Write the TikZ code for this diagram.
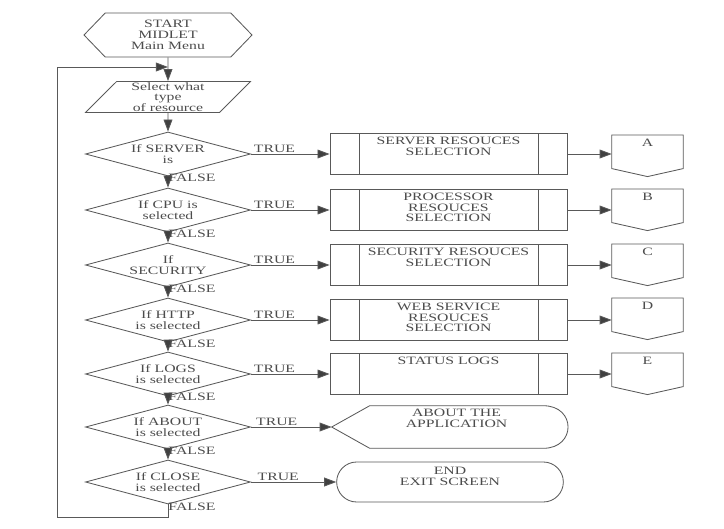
\documentclass[tikz,border=0pt]{standalone}
\usepackage{fontspec}
\newfontfamily\scanfont[FakeStretch=1.4]{Liberation Serif}
\usetikzlibrary{shapes.geometric,shapes.misc,shapes.symbols,arrows.meta}

\begin{document}
\begin{tikzpicture}[
        x=0.025cm, y=-0.025cm, % one unit = one pixel of the scan
        line/.style={draw=black!65, line width=0.6pt},
        flow/.style={line, -{Triangle[length=3mm, width=2.2mm, fill=black!75]}},
        txt/.style={font=\scanfont\fontsize{8}{7.6}\selectfont, text=black!70, align=center},
        lbl/.style={txt, inner sep=1pt},
        startnode/.style={signal, signal to=west and east, signal pointer angle=92, line, txt, minimum width=42mm, minimum height=11mm, inner sep=0pt},
        inputnode/.style={trapezium, trapezium left angle=53, trapezium right angle=127, trapezium stretches=true, line, txt, minimum width=41.25mm, minimum height=7.75mm, inner sep=0pt},
        decision/.style={diamond, aspect=3.5, line, txt, minimum width=41.25mm, minimum height=11mm, inner sep=0pt},
        process/.style={rectangle, line, minimum width=59.25mm, minimum height=10.25mm,
            path picture={
                \draw[line] ([xshift=7.25mm]path picture bounding box.north west) -- ([xshift=7.25mm]path picture bounding box.south west);
                \draw[line] ([xshift=-7.25mm]path picture bounding box.north east) -- ([xshift=-7.25mm]path picture bounding box.south east);
            }},
        offpage/.style={rectangle, minimum width=17.75mm, minimum height=8.25mm, anchor=north},
        terminal/.style={rounded rectangle, line, minimum width=59mm, minimum height=10mm},
        top text/.style={label={[txt, anchor=north, inner sep=2.5pt]north:#1}},
    ]
    \useasboundingbox (0,0) rectangle (724,528);

    % main column
    \node[startnode] (start) at (168,35) {START\\MIDLET\\Main Menu};
    \node[inputnode] (sel) at (168,97) {Select what\\type\\of resource};
    \node[decision] (d1) at (168,154) {If SERVER\\is};
    \node[decision] (d2) at (168,210) {If CPU is\\selected};
    \node[decision] (d3) at (168,265) {If\\SECURITY};
    \node[decision] (d4) at (168,320) {If HTTP\\is selected};
    \node[decision] (d5) at (168,374) {If LOGS\\is selected};
    \node[decision] (d6) at (168,427) {If ABOUT\\is selected};
    \node[decision] (d7) at (168,482) {If CLOSE\\is selected};

    % selections
    \node[process, top text={SERVER RESOUCES\\SELECTION}] (s1) at (448.5,154) {};
    \node[process, top text={PROCESSOR\\RESOUCES\\SELECTION}] (s2) at (448.5,210) {};
    \node[process, top text={SECURITY RESOUCES\\SELECTION}] (s3) at (448.5,265) {};
    \node[process, top text={WEB SERVICE\\RESOUCES\\SELECTION}] (s4) at (448.5,320) {};
    \node[process, top text={STATUS LOGS}] (s5) at (448.5,374) {};

    % connectors to other pages
    \node[offpage, top text=A] (pa) at (647.5,135) {};
    \node[offpage, top text=B] (pb) at (647.5,189) {};
    \node[offpage, top text=C] (pc) at (647.5,244) {};
    \node[offpage, top text=D] (pd) at (647.5,298) {};
    \node[offpage, top text=E] (pe) at (647.5,353) {};
    \foreach \p in {pa,pb,pc,pd,pe}
        \draw[line] (\p.north west) -- (\p.north east) -- (\p.south east) -- ([yshift=-2mm]\p.south) -- (\p.south west) -- cycle;

    \node[minimum width=43.25mm, minimum height=10.5mm, top text={ABOUT THE\\APPLICATION}] (about) at (456.5,427) {};
    \coordinate (tip) at ([xshift=-9.5mm]about.west);
    \draw[line] (tip) -- (about.north west) -- (about.north east) .. controls +(33,0) and +(33,0) .. (about.south east) -- (about.south west) -- cycle;
    \node[terminal, label={[txt, anchor=north, inner sep=4pt]north:{END\\EXIT SCREEN}}] (end) at (450,482) {};

    % arrows down the column
    \draw[flow] (start) -- (sel);
    \draw[flow] (sel) -- (d1);
    \draw[flow] (d1) -- node[lbl, pos=0.1, anchor=west, inner sep=0pt] {FALSE} (d2);
    \draw[flow] (d2) -- node[lbl, pos=0.1, anchor=west, inner sep=0pt] {FALSE} (d3);
    \draw[flow] (d3) -- node[lbl, pos=0.1, anchor=west, inner sep=0pt] {FALSE} (d4);
    \draw[flow] (d4) -- node[lbl, pos=0.1, anchor=west, inner sep=0pt] {FALSE} (d5);
    \draw[flow] (d5) -- node[lbl, pos=0.1, anchor=west, inner sep=0pt] {FALSE} (d6);
    \draw[flow] (d6) -- node[lbl, pos=0.1, anchor=west, inner sep=0pt] {FALSE} (d7);

    % back to the menu
    \coordinate (loop bottom) at (57,517);
    \coordinate (loop top) at (57,67);
    \coordinate (join) at (168,67);
    \draw[flow] (d7.south) |- node[lbl, pos=0.1, anchor=west, inner sep=0pt] {FALSE} (loop bottom) -- (loop top) -- (join);

    % true branches
    \draw[flow] (d1) -- node[lbl, above, pos=0.3] {TRUE} (s1);
    \draw[flow] (d2) -- node[lbl, above, pos=0.3] {TRUE} (s2);
    \draw[flow] (d3) -- node[lbl, above, pos=0.3] {TRUE} (s3);
    \draw[flow] (d4) -- node[lbl, above, pos=0.3] {TRUE} (s4);
    \draw[flow] (d5) -- node[lbl, above, pos=0.3] {TRUE} (s5);
    \draw[flow] (d6) -- node[lbl, above, pos=0.32] {TRUE} (tip);
    \draw[flow] (d7) -- node[lbl, above, pos=0.32] {TRUE} (end);

    \draw[flow] (s1) -- (s1.east -| pa.west);
    \draw[flow] (s2) -- (s2.east -| pb.west);
    \draw[flow] (s3) -- (s3.east -| pc.west);
    \draw[flow] (s4) -- (s4.east -| pd.west);
    \draw[flow] (s5) -- (s5.east -| pe.west);
\end{tikzpicture}
\end{document}
